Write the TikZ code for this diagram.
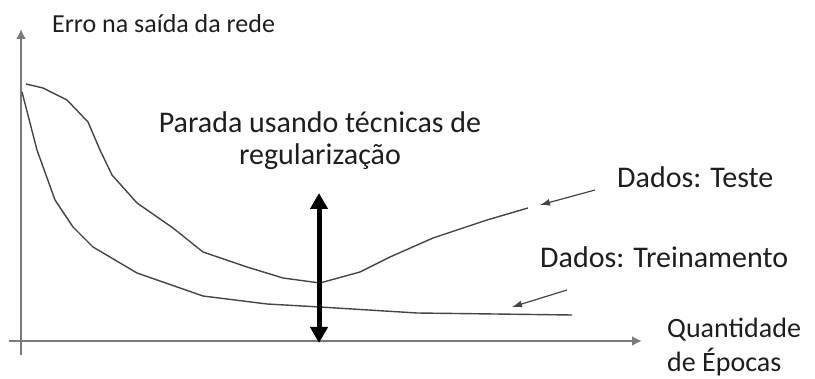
\documentclass[tikz,border=0pt]{standalone}
\usepackage{fontspec}
\setmainfont{Carlito}
\usetikzlibrary{arrows.meta,positioning}
\tikzset{>=latex}
\definecolor{axisgray}{HTML}{7A7A7A}
\definecolor{curvegray}{HTML}{454545}
\definecolor{txtgray}{HTML}{1E1E1E}
\tikzset{
  lbl/.style={inner sep=0pt,text=txtgray,font=\fontsize{30}{33}\selectfont},
  curve/.style={curvegray,line width=1.4pt,line join=round},
  pointer/.style={->,curvegray,line width=1.2pt,>={Latex[length=10pt,width=7pt]}}
}

\begin{document}
\begin{tikzpicture}[x=1pt,y=-1pt]
    \useasboundingbox (0,0) rectangle (815,379);

    % axes
    \coordinate (yfoot) at (21,355);
    \coordinate (ytop) at (21,29);
    \coordinate (xleft) at (9,341);
    \coordinate (xright) at (642,341);
    \draw [axisgray,line width=2pt,-{Latex[length=10pt,width=10pt]}] (yfoot) -- (ytop);
    \draw [axisgray,line width=2pt,-{Latex[length=10pt,width=10pt]}] (xleft) -- (xright);
    \node [lbl,anchor=base west,font=\fontsize{26}{30}\selectfont] (erro) at (52,33) {Erro na saída da rede};
    \node [lbl,anchor=base west,align=left,font=\fontsize{28}{34}\selectfont] (epocas) at (667,372) {Quantidade\\de Épocas};

    % training and test curves
    \draw [curve] (22,92) -- (37,150) -- (55,200) -- (73,227) -- (93,247) -- (137,273)
        -- (203,296) -- (267,304) -- (320,307) -- (417,313) -- (572,315);
    \draw [curve] (26,84) -- (43,88) -- (67,100) -- (88,122) -- (100,150) -- (112,175)
        -- (137,203) -- (173,228) -- (203,252) -- (247,267) -- (283,278) -- (320,283)
        -- (360,272) -- (390,257) -- (433,238) -- (487,220) -- (528,208);

    % stopping point
    \coordinate (stoptop) at (319,193);
    \coordinate (stopbot) at (319,343);
    \draw [line width=5pt,{Triangle[length=16pt,width=17pt]}-{Triangle[length=16pt,width=17pt]}] (stoptop) -- (stopbot);
    \node [lbl,anchor=base,align=center,font=\fontsize{30}{32}\selectfont] (parada) at (320,165) {Parada usando técnicas de\\regularização};

    % labels of the curves
    \node [lbl,anchor=base west] (teste) at (617,188) {Dados: Teste};
    \node [lbl,anchor=base west] (treino) at (540,268) {Dados: Treinamento};
    \coordinate (testetail) at (595,190);
    \coordinate (testetip) at (540,205);
    \coordinate (treinotail) at (567,290);
    \coordinate (treinotip) at (512,307);
    \draw [pointer] (testetail) -- (testetip);
    \draw [pointer] (treinotail) -- (treinotip);
\end{tikzpicture}
\end{document}
